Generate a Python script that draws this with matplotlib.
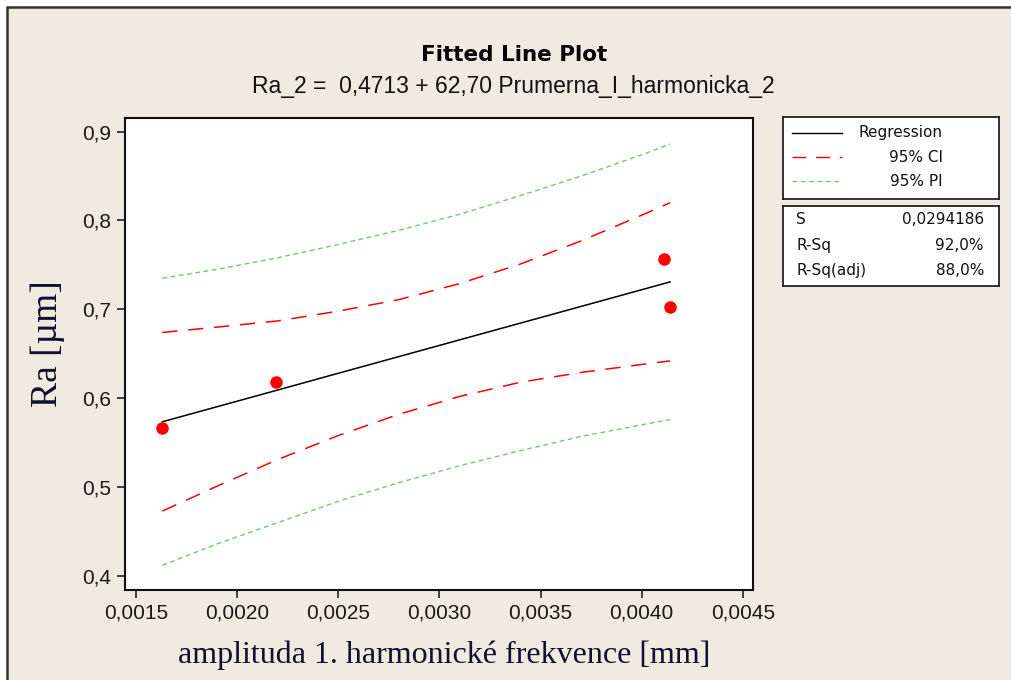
import numpy as np
import matplotlib
matplotlib.use('Agg')
import matplotlib.pyplot as plt
from matplotlib.patches import Rectangle
from matplotlib.ticker import FuncFormatter, MultipleLocator

# measured points
x_pts = [0.00163, 0.00219, 0.00411, 0.00414]
y_pts = [0.567, 0.618, 0.757, 0.703]

# fitted line and bands
x_band = [0.00163, 0.0019, 0.0022, 0.0025, 0.0028, 0.0031, 0.0034, 0.0037, 0.0040, 0.00414]
fit = [0.5735, 0.5904, 0.6092, 0.6281, 0.6469, 0.6657, 0.6845, 0.7033, 0.7221, 0.7309]
ci_up = [0.674, 0.680, 0.687, 0.698, 0.711, 0.729, 0.751, 0.777, 0.806, 0.820]
ci_lo = [0.473, 0.501, 0.531, 0.558, 0.582, 0.602, 0.618, 0.629, 0.638, 0.642]
pi_up = [0.735, 0.745, 0.758, 0.773, 0.789, 0.807, 0.828, 0.850, 0.874, 0.886]
pi_lo = [0.412, 0.436, 0.460, 0.484, 0.505, 0.524, 0.541, 0.557, 0.570, 0.576]

stat_names = ['S', 'R-Sq', 'R-Sq(adj)']
stat_vals = ['0,0294186', '92,0%', '88,0%']
leg_names = ['Regression', '95% CI', '95% PI']

W, H = 1011, 680
bg = '#EFEBE1'
fig = plt.figure(figsize=(W / 100, H / 100), dpi=100, facecolor='white')

# beige panel with dark frame, behind everything
fig.patches.append(Rectangle((7 / W, -0.05), 1.1, 1 - 7 / H + 0.05, transform=fig.transFigure,
                             facecolor=bg, edgecolor='#333333', lw=1.8, zorder=-10))

def fx(px):
    return px / W

def fy(py):
    return 1 - py / H

ax = fig.add_axes([fx(124.7), fy(590), fx(753) - fx(124.7), fy(118.3) - fy(590)])
ax.set_facecolor('white')

ax.plot(x_band, fit, color='black', lw=1.1)
ax.plot(x_band, ci_up, color='#FF0000', lw=1.1, dashes=(10, 7))
ax.plot(x_band, ci_lo, color='#FF0000', lw=1.1, dashes=(10, 7))
ax.plot(x_band, pi_up, color='#70CC70', lw=1.0, dashes=(3.5, 2.5))
ax.plot(x_band, pi_lo, color='#70CC70', lw=1.0, dashes=(3.5, 2.5))
ax.plot(x_pts, y_pts, 'o', color='#FF0000', ms=8, mec='#FF0000', zorder=5)

ax.set_xlim(0.001444, 0.00455)
ax.set_ylim(0.3842, 0.915)
ax.xaxis.set_major_locator(MultipleLocator(0.0005))
ax.yaxis.set_major_locator(MultipleLocator(0.1))
ax.xaxis.set_major_formatter(FuncFormatter(lambda v, p: ('%.4f' % v).replace('.', ',')))
ax.yaxis.set_major_formatter(FuncFormatter(lambda v, p: ('%.1f' % v).replace('.', ',')))
ax.tick_params(direction='out', length=6, width=1.2, color='#222222', labelsize=15,
               labelcolor='#1a1a1a', pad=4)
for lab in ax.get_xticklabels() + ax.get_yticklabels():
    lab.set_fontfamily('Liberation Sans')
for s in ax.spines.values():
    s.set_linewidth(1.5)
    s.set_color('#111111')

fig.text(fx(444), fy(655), 'amplituda 1. harmonické frekvence [mm]', ha='center', va='center',
         family='Liberation Serif', fontsize=23, color='#101030')
fig.text(fx(48), fy(344), 'Ra [µm]', ha='center', va='center', rotation=90,
         family='Liberation Serif', fontsize=27, color='#101030')

fig.text(fx(514), fy(55), 'Fitted Line Plot', ha='center', va='center', fontsize=15.5,
         fontweight='bold', family='DejaVu Sans', color='black')
fig.text(fx(513), fy(87), 'Ra_2 =  0,4713 + 62,70 Prumerna_I_harmonicka_2', ha='center',
         va='center', fontsize=16.5, family='Liberation Sans', color='#111111')

# legend box
lax = fig.add_axes([fx(783), fy(199), fx(999) - fx(783), fy(117) - fy(199)])
lax.set_xlim(783, 999)
lax.set_ylim(199, 117)
lax.set_xticks([])
lax.set_yticks([])
for s in lax.spines.values():
    s.set_linewidth(1.3)
    s.set_color('#222222')
rows = [133, 157, 181]
lax.plot([792, 842], [rows[0]] * 2, color='black', lw=1.0)
lax.plot([792, 842], [rows[1]] * 2, color='#FF0000', lw=1.0, dashes=(10, 7))
lax.plot([792, 842], [rows[2]] * 2, color='#70CC70', lw=1.0, dashes=(3.5, 2.5))
for r, name in zip(rows, leg_names):
    lax.text(943, r, name, ha='right', va='center', fontsize=11, family='DejaVu Sans',
             color='#111111')

# stats box
sax = fig.add_axes([fx(783), fy(286), fx(999) - fx(783), fy(205.5) - fy(286)])
sax.set_xlim(783, 999)
sax.set_ylim(286, 205.5)
sax.set_xticks([])
sax.set_yticks([])
for s in sax.spines.values():
    s.set_linewidth(1.3)
    s.set_color('#222222')
for r, name, val in zip([220, 245, 270], stat_names, stat_vals):
    sax.text(796, r, name, ha='left', va='center', fontsize=11, family='DejaVu Sans', color='#111111')
    sax.text(984, r, val, ha='right', va='center', fontsize=11, family='DejaVu Sans', color='#111111')

fig.savefig('out.png', dpi=100, facecolor='white')
